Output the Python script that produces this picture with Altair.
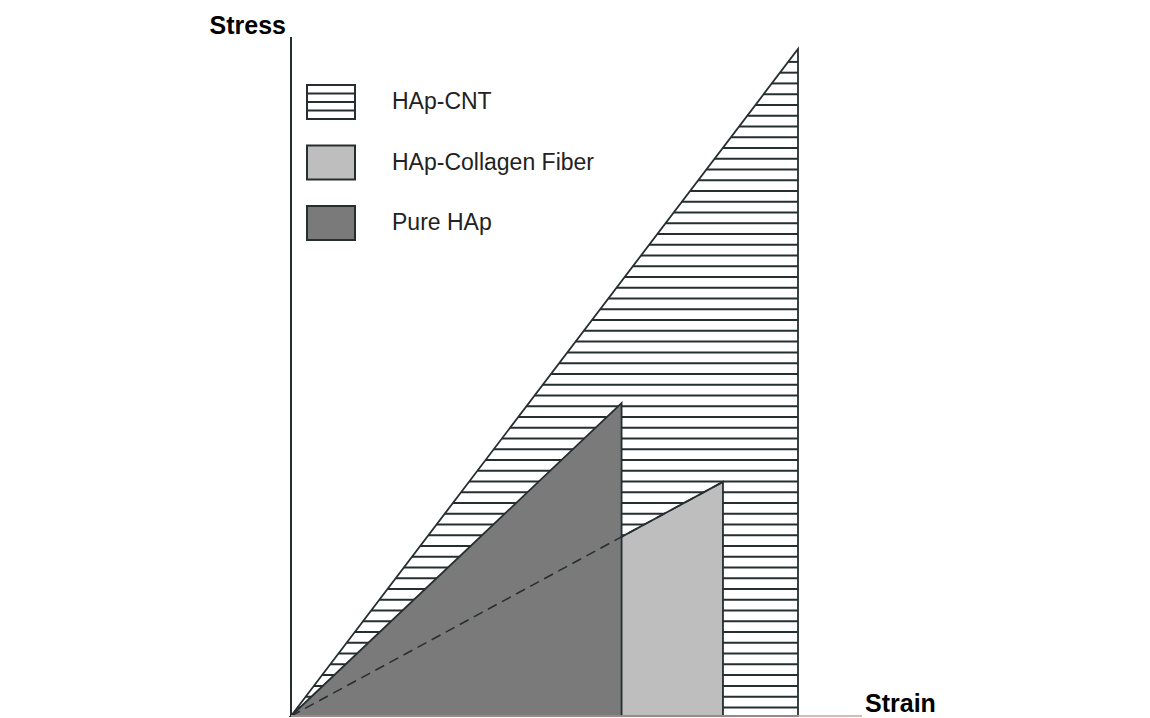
import altair as alt
import numpy as np
import pandas as pd

# ---------------- data (schematic stress-strain, arbitrary units) ----------------
materials = ["HAp-CNT", "HAp-Collagen Fiber", "Pure HAp"]
failure_strain = [1.00, 0.852, 0.652]
failure_stress = [1.00, 0.351, 0.469]
fill_colors = ["#ffffff", "#bebebe", "#7a7a7a"]
axis_labels = ["Stress", "Strain"]

# ---------------- layout ----------------
W, H = 1134, 710                 # plot area (page minus 8px margin)
ORIGIN_X, ORIGIN_Y = 291 - 8, 716 - 8
UNIT_X, UNIT_Y = 507, 667        # px per unit
x_dom = [-ORIGIN_X / UNIT_X, (W - ORIGIN_X) / UNIT_X]
y_dom = [-(H - ORIGIN_Y) / UNIT_Y, ORIGIN_Y / UNIT_Y]
DARK = "#262e30"
FONT = "Liberation Sans"


def ux(px):
    return (px - 8 - ORIGIN_X) / UNIT_X


def uy(py):
    return (ORIGIN_Y - (py - 8)) / UNIT_Y


xs = alt.Scale(domain=x_dom, nice=False, zero=False)
ys = alt.Scale(domain=y_dom, nice=False, zero=False)

# curves table: each material goes from the origin to its failure point
rows = []
for m, e, s in zip(materials, failure_strain, failure_stress):
    rows.append({"material": m, "strain": 0.0, "stress": 0.0, "base": 0.0})
    rows.append({"material": m, "strain": e, "stress": s, "base": 0.0})
curves = pd.DataFrame(rows)

one = alt.Data(values=[{}])


def area(m, fill):
    return (
        alt.Chart(curves)
        .transform_filter(alt.datum.material == m)
        .mark_area(fill=fill, stroke=DARK, strokeWidth=1.8, interpolate="linear")
        .encode(
            x=alt.X("strain:Q", scale=xs, axis=None),
            y=alt.Y("stress:Q", scale=ys, axis=None),
            y2="base:Q",
        )
    )


# hatch pattern for the HAp-CNT region (styling)
cnt_e, cnt_s = failure_strain[0], failure_stress[0]
levels = (np.arange(61) + 0.8) / 62.0
hatch_df = pd.DataFrame({
    "y": levels * cnt_s,
    "x0": levels * cnt_e,
    "x1": np.full(len(levels), cnt_e),
})
hatch = alt.Chart(hatch_df).mark_rule(color=DARK, strokeWidth=2).encode(
    x=alt.X("x0:Q", scale=xs, axis=None),
    x2="x1:Q",
    y=alt.Y("y:Q", scale=ys, axis=None),
)

collagen_line = (
    alt.Chart(curves)
    .transform_filter(alt.datum.material == materials[1])
    .mark_line(color=DARK, strokeWidth=1.5, strokeDash=[10, 6])
    .encode(
        x=alt.X("strain:Q", scale=xs, axis=None),
        y=alt.Y("stress:Q", scale=ys, axis=None),
    )
)

# axes lines
v_axis = alt.Chart(one).mark_rule(color=DARK, strokeWidth=2).encode(
    x=alt.X(datum=0, scale=xs, axis=None),
    y=alt.Y(datum=0, scale=ys, axis=None),
    y2=alt.Y2(datum=uy(37)),
)
h_axis = alt.Chart(one).mark_rule(color="#c9a79a", strokeWidth=1.5).encode(
    x=alt.X(datum=0, scale=xs, axis=None),
    x2=alt.X2(datum=ux(862)),
    y=alt.Y(datum=0, scale=ys, axis=None),
)

stress_lbl = alt.Chart(one).mark_text(
    text=axis_labels[0], font=FONT, fontSize=25, fontWeight="bold", color="black",
    align="right", baseline="alphabetic",
).encode(x=alt.value(286 - 8), y=alt.value(34 - 8))
strain_lbl = alt.Chart(one).mark_text(
    text=axis_labels[1], font=FONT, fontSize=25, fontWeight="bold", color="black",
    align="left", baseline="alphabetic",
).encode(x=alt.value(865 - 8), y=alt.value(712 - 8))

# legend (custom: hatched swatch for HAp-CNT)
LEG_TOP, LEG_STEP, LEG_H = 85, 60.5, 34
leg = pd.DataFrame({
    "material": materials,
    "fill": fill_colors,
    "top": [uy(LEG_TOP + i * LEG_STEP) for i in range(3)],
    "bottom": [uy(LEG_TOP + i * LEG_STEP + LEG_H) for i in range(3)],
    "mid": [uy(LEG_TOP + i * LEG_STEP + LEG_H / 2) for i in range(3)],
})
leg_rect = alt.Chart(leg).mark_rect(stroke=DARK, strokeWidth=2).encode(
    x=alt.X(datum=ux(307), scale=xs, axis=None),
    x2=alt.X2(datum=ux(355)),
    y=alt.Y("top:Q", scale=ys, axis=None),
    y2="bottom:Q",
    fill=alt.Fill("fill:N", scale=None),
)
leg_hatch_df = pd.DataFrame({"y": [uy(LEG_TOP + LEG_H * k / 4) for k in (1, 2, 3)]})
leg_hatch = alt.Chart(leg_hatch_df).mark_rule(color=DARK, strokeWidth=2).encode(
    x=alt.X(datum=ux(307), scale=xs, axis=None),
    x2=alt.X2(datum=ux(355)),
    y=alt.Y("y:Q", scale=ys, axis=None),
)
leg_text = alt.Chart(leg).mark_text(
    align="left", baseline="middle", font=FONT, fontSize=23, color="#222"
).encode(
    x=alt.X(datum=ux(392), scale=xs, axis=None),
    y=alt.Y("mid:Q", scale=ys, axis=None),
    text="material:N",
)

chart = alt.layer(
    area(materials[0], fill_colors[0]),
    hatch,
    area(materials[1], fill_colors[1]),
    area(materials[2], fill_colors[2]),
    collagen_line,
    v_axis,
    h_axis,
    stress_lbl,
    strain_lbl,
    leg_rect,
    leg_hatch,
    leg_text,
).properties(
    width=W,
    height=H,
    autosize=alt.AutoSizeParams(type="none"),
    padding=0,
    background="white",
).configure_view(stroke=None)

chart.save("out.html", embed_options={"renderer": "svg", "actions": False})
